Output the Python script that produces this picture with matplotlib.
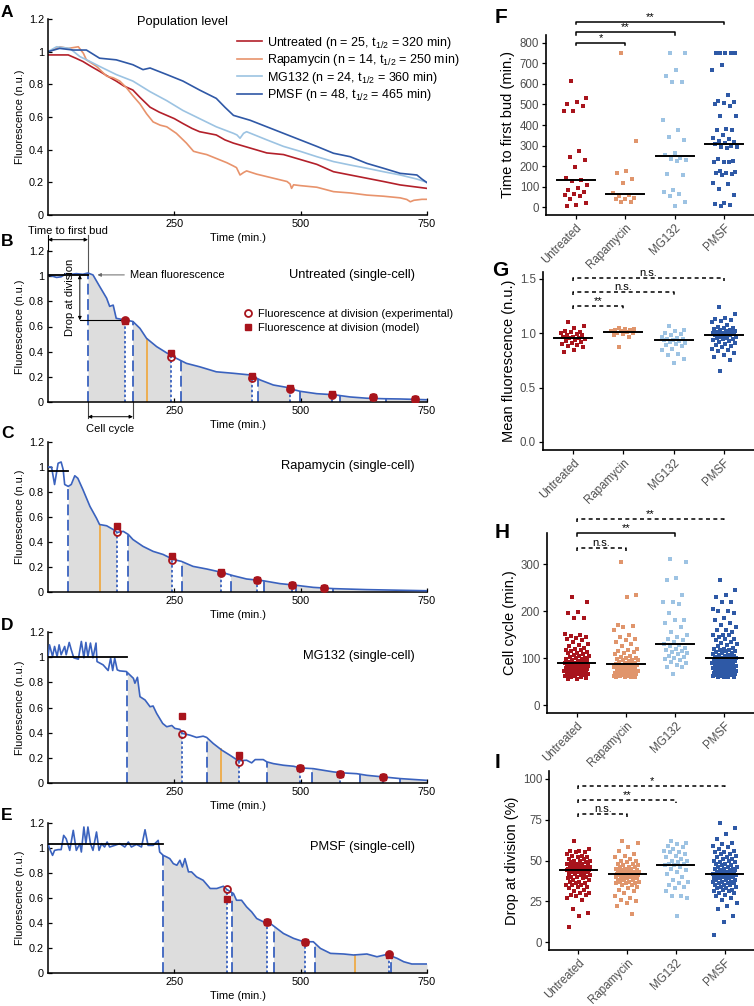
import numpy as np
import matplotlib
matplotlib.use('Agg')
import matplotlib.pyplot as plt
from matplotlib.lines import Line2D
from matplotlib.ticker import FuncFormatter

plt.rcParams['font.family'] = ['Liberation Sans', 'DejaVu Sans']
plt.rcParams['mathtext.fontset'] = 'custom'
plt.rcParams['mathtext.rm'] = 'Liberation Sans'
plt.rcParams['mathtext.it'] = 'Liberation Sans:italic'

# colours
c_unt = '#B3202A'
c_rap = '#E8936C'
c_mg = '#9CC3E2'
c_pm = '#2F58A6'
c_curve = '#3A62BE'
c_red = '#A8141C'
c_fill = '#DDDDDD'
c_yel = '#F0A63A'

# ---------------- A: population level ----------------
t_unt_pop = [0, 20, 40, 55, 69, 85, 102, 118, 135, 150, 168, 182, 202, 220, 235, 250, 267, 285, 300, 333, 350, 367, 400, 433, 466, 499, 532, 565, 598, 631, 664, 697, 750]
f_unt_pop = [0.98, 0.98, 0.98, 0.96, 0.94, 0.91, 0.88, 0.85, 0.82, 0.79, 0.765, 0.72, 0.66, 0.63, 0.61, 0.59, 0.56, 0.53, 0.51, 0.49, 0.46, 0.44, 0.41, 0.38, 0.37, 0.34, 0.31, 0.265, 0.245, 0.225, 0.205, 0.184, 0.163]

t_rap_pop = [0, 10, 23, 40, 60, 70, 76, 86, 96, 106, 116, 129, 142, 155, 168, 182, 195, 208, 222, 235, 254, 264, 274, 288, 300, 314, 334, 354, 367, 373, 380, 387, 393, 413, 433, 453, 473, 479, 482, 486, 499, 532, 565, 598, 631, 664, 697, 710, 717, 724, 740, 750]
f_rap_pop = [1.0, 1.01, 1.03, 1.02, 1.03, 0.99, 0.95, 0.93, 0.91, 0.88, 0.85, 0.84, 0.82, 0.78, 0.73, 0.68, 0.62, 0.57, 0.55, 0.54, 0.50, 0.47, 0.44, 0.39, 0.38, 0.37, 0.345, 0.32, 0.30, 0.29, 0.245, 0.26, 0.27, 0.25, 0.235, 0.22, 0.205, 0.19, 0.163, 0.185, 0.18, 0.17, 0.143, 0.135, 0.122, 0.115, 0.105, 0.095, 0.081, 0.09, 0.096, 0.096]

t_mg_pop = [0, 17, 43, 63, 83, 102, 135, 168, 202, 235, 267, 300, 333, 367, 374, 380, 387, 393, 433, 466, 499, 532, 565, 598, 631, 664, 697, 730, 750]
f_mg_pop = [1.0, 1.03, 1.02, 0.97, 0.94, 0.91, 0.86, 0.82, 0.755, 0.70, 0.64, 0.59, 0.54, 0.50, 0.49, 0.47, 0.50, 0.51, 0.46, 0.42, 0.39, 0.357, 0.327, 0.306, 0.286, 0.265, 0.245, 0.22, 0.20]

t_pm_pop = [0, 23, 50, 76, 102, 135, 168, 188, 202, 235, 267, 300, 333, 350, 367, 400, 433, 466, 499, 532, 565, 598, 631, 664, 697, 730, 740, 750]
f_pm_pop = [1.0, 1.02, 1.01, 1.01, 0.96, 0.95, 0.92, 0.89, 0.90, 0.86, 0.82, 0.765, 0.714, 0.66, 0.61, 0.58, 0.54, 0.50, 0.46, 0.42, 0.378, 0.357, 0.316, 0.286, 0.255, 0.245, 0.22, 0.198]

pop_labels = ['Untreated (n = 25, t$_{1/2}$ = 320 min)',
              'Rapamycin (n = 14, t$_{1/2}$ = 250 min)',
              'MG132 (n = 24, t$_{1/2}$ = 360 min)',
              'PMSF (n = 48, t$_{1/2}$ = 465 min)']

# ---------------- B-E: single cells ----------------
t_B = [0, 17, 26, 36, 46, 56, 69, 79, 89, 102, 116, 122, 129, 135, 155, 168, 182, 195, 215, 235, 254, 274, 300, 333, 367, 400, 420, 446, 473, 479, 499, 532, 565, 598, 631, 664, 697, 750]
f_B = [1.01, 0.99, 0.995, 1.02, 1.015, 1.02, 1.015, 1.025, 1.01, 0.92, 0.825, 0.76, 0.77, 0.665, 0.65, 0.64, 0.585, 0.506, 0.44, 0.39, 0.347, 0.307, 0.28, 0.24, 0.228, 0.215, 0.175, 0.135, 0.116, 0.105, 0.085, 0.066, 0.058, 0.04, 0.03, 0.026, 0.024, 0.018]
mean_B = 1.01
bud_B = [79, 168, 263, 415, 499, 578, 669]
div_B = [153, 243, 404, 478, 562, 643, 727]
exp_B = [0.65, 0.36, 0.19, 0.105, 0.058, 0.036, 0.022]
mod_B = [0.64, 0.39, 0.21, 0.115, 0.06, 0.04, 0.024]
yel_B = 196

t_C = [0, 7, 13, 20, 26, 30, 33, 40, 46, 53, 59, 69, 83, 96, 102, 116, 129, 137, 149, 159, 168, 188, 208, 228, 248, 264, 287, 314, 344, 367, 393, 426, 459, 486, 525, 565, 631, 750]
f_C = [1.0, 1.0, 0.86, 1.03, 1.04, 0.98, 0.86, 0.845, 0.86, 0.93, 0.91, 0.82, 0.685, 0.59, 0.54, 0.53, 0.50, 0.477, 0.485, 0.46, 0.42, 0.365, 0.325, 0.30, 0.26, 0.245, 0.205, 0.184, 0.157, 0.13, 0.104, 0.09, 0.067, 0.056, 0.037, 0.027, 0.019, 0.01]
mean_C = 0.97
bud_C = [40, 159, 266, 363, 428, 490, 563]
div_C = [137, 246, 342, 413, 482, 546]
exp_C = [0.477, 0.26, 0.155, 0.1, 0.06, 0.03]
mod_C = [0.53, 0.29, 0.16, 0.1, 0.06, 0.035]
yel_C = 102

t_D = [0, 3, 9, 13, 18, 22, 26, 33, 36, 42, 46, 51, 60, 66, 71, 75, 79, 84, 89, 95, 97, 109, 119, 124, 128, 132, 137, 142, 155, 162, 169, 172, 177, 182, 192, 202, 208, 215, 221, 227, 235, 245, 251, 261, 266, 281, 294, 307, 314, 327, 344, 360, 377, 393, 403, 410, 426, 433, 446, 466, 486, 499, 525, 545, 565, 585, 611, 631, 664, 697, 750]
f_D = [1.005, 1.098, 1.005, 1.085, 1.005, 1.098, 1.019, 1.085, 1.019, 1.117, 1.059, 0.995, 0.984, 1.125, 0.995, 1.117, 1.005, 1.112, 0.995, 1.112, 0.965, 0.939, 0.894, 0.992, 0.894, 0.992, 0.899, 0.891, 0.886, 0.859, 0.832, 0.793, 0.84, 0.686, 0.66, 0.606, 0.612, 0.553, 0.513, 0.473, 0.447, 0.457, 0.434, 0.426, 0.394, 0.38, 0.362, 0.372, 0.362, 0.314, 0.261, 0.221, 0.176, 0.181, 0.16, 0.186, 0.186, 0.168, 0.154, 0.141, 0.133, 0.12, 0.114, 0.101, 0.088, 0.08, 0.074, 0.061, 0.048, 0.035, 0.021]
mean_D = 1.0
mean_end_D = 157
bud_D = [157, 314, 433, 523, 618, 697]
div_D = [266, 377, 499, 578, 663]
exp_D = [0.39, 0.17, 0.12, 0.075, 0.045]
mod_D = [0.535, 0.225, 0.12, 0.075, 0.045]
yel_D = 342

t_E = [0, 3, 9, 13, 20, 26, 31, 36, 43, 50, 56, 63, 66, 71, 75, 79, 84, 89, 96, 101, 106, 112, 117, 122, 132, 142, 152, 159, 165, 175, 185, 192, 198, 208, 218, 221, 228, 235, 241, 248, 255, 261, 266, 271, 278, 284, 294, 307, 321, 334, 347, 354, 367, 373, 383, 393, 403, 413, 426, 440, 453, 466, 486, 506, 525, 539, 559, 585, 605, 631, 651, 671, 691, 704, 720, 750]
f_E = [1.035, 0.995, 0.941, 0.981, 0.987, 0.987, 1.101, 1.074, 0.981, 1.141, 0.981, 1.035, 0.968, 1.168, 1.035, 1.168, 1.035, 0.981, 1.128, 0.981, 1.035, 1.008, 1.048, 1.008, 1.021, 1.035, 1.008, 1.048, 1.008, 1.029, 1.008, 1.146, 1.021, 1.021, 1.061, 0.968, 0.941, 0.928, 0.915, 0.875, 0.862, 0.902, 0.848, 0.915, 0.809, 0.809, 0.769, 0.742, 0.676, 0.676, 0.694, 0.668, 0.636, 0.582, 0.582, 0.529, 0.489, 0.436, 0.41, 0.396, 0.356, 0.316, 0.277, 0.25, 0.25, 0.197, 0.157, 0.152, 0.144, 0.152, 0.13, 0.149, 0.117, 0.09, 0.072, 0.072]
mean_E = 1.035
bud_E = [228, 365, 448, 529, 679]
div_E = [354, 433, 508, 674]
exp_E = [0.67, 0.405, 0.25, 0.15]
mod_E = [0.595, 0.405, 0.25, 0.145]
yel_E = 608

# ---------------- F-I: per-condition distributions ----------------
groups = ['Untreated', 'Rapamycin', 'MG132', 'PMSF']
group_colors = ['#A8141C', '#E0956C', '#9DC3E3', '#2E59A6']

bud_unt = [615, 530, 510, 500, 495, 470, 470, 275, 245, 230, 195, 140, 130, 125, 105, 95, 85, 75, 65, 60, 55, 40, 20, 10, 5]
bud_rap = [750, 320, 175, 165, 135, 115, 70, 60, 55, 45, 40, 40, 25, 25]
bud_mg = [750, 750, 670, 640, 610, 610, 425, 375, 340, 325, 265, 255, 240, 235, 230, 225, 160, 155, 85, 75, 65, 55, 25, 5]
bud_pm = [750, 750, 750, 750, 750, 695, 670, 545, 515, 510, 505, 500, 495, 445, 445, 380, 375, 375, 350, 335, 330, 320, 315, 310,
          305, 300, 295, 295, 290, 235, 225, 220, 220, 220, 175, 170, 165, 165, 160, 155, 115, 110, 90, 60, 20, 15, 10, 5]

mf_unt = [1.10, 1.07, 1.05, 1.02, 1.01, 1.01, 1.0, 0.99, 0.98, 0.98, 0.97, 0.97, 0.96, 0.96, 0.95, 0.94, 0.93, 0.92, 0.91, 0.90, 0.89, 0.88, 0.87, 0.85, 0.83]
mf_rap = [1.05, 1.04, 1.04, 1.03, 1.03, 1.02, 1.02, 1.01, 1.0, 1.0, 0.99, 0.98, 0.97, 0.87]
mf_mg = [1.07, 1.03, 1.02, 1.0, 0.99, 0.98, 0.97, 0.96, 0.95, 0.95, 0.94, 0.94, 0.93, 0.92, 0.91, 0.90, 0.89, 0.88, 0.86, 0.85, 0.81, 0.80, 0.76, 0.73]
mf_pm = [1.24, 1.18, 1.14, 1.13, 1.12, 1.11, 1.10, 1.08, 1.06, 1.05, 1.05, 1.04, 1.03, 1.03, 1.02, 1.02, 1.01, 1.01, 1.0, 1.0,
         1.0, 0.99, 0.99, 0.98, 0.98, 0.98, 0.97, 0.97, 0.96, 0.96, 0.95, 0.95, 0.94, 0.93, 0.92, 0.91, 0.90, 0.89, 0.88, 0.87,
         0.86, 0.85, 0.84, 0.82, 0.80, 0.78, 0.75, 0.65]

cc_unt = [230, 220, 197, 195, 186, 185, 152, 148, 146, 145, 143, 140, 138, 135, 130, 128, 125, 122, 120, 118, 116, 115, 112, 110,
          110, 108, 106, 105, 104, 102, 100, 100, 98, 97, 95, 95, 94, 92, 91, 90, 90, 89, 88, 87, 86, 85, 85, 84, 83, 82, 81, 80,
          80, 79, 78, 77, 76, 75, 75, 74, 73, 72, 71, 70, 70, 69, 68, 67, 66, 65, 65, 64, 63, 62, 61, 60, 60, 58, 56, 55]
cc_rap = [305, 235, 230, 170, 168, 165, 160, 150, 145, 140, 138, 135, 130, 125, 120, 118, 115, 112, 110, 108, 105, 102, 100, 100,
          98, 96, 95, 95, 93, 92, 90, 90, 88, 87, 86, 85, 85, 84, 83, 82, 81, 80, 79, 78, 77, 76, 75, 74, 73, 72, 71, 70, 70, 69,
          68, 67, 66, 65, 65, 64, 63, 62, 62, 61, 60, 60, 60, 60]
cc_mg = [310, 305, 270, 265, 235, 220, 220, 215, 195, 180, 180, 175, 165, 155, 150, 145, 140, 138, 135, 130, 128, 125, 122, 120,
         118, 115, 112, 110, 108, 105, 102, 100, 98, 95, 92, 90, 85, 80, 80, 65]
cc_pm = [265, 245, 235, 230, 220, 220, 205, 200, 200, 195, 185, 180, 175, 170, 165, 160, 160, 155, 150, 150, 148, 145, 140, 140,
         138, 135, 132, 130, 128, 125, 122, 120, 120, 118, 116, 115, 114, 112, 110, 110, 108, 107, 106, 105, 104, 103, 102, 101,
         100, 100, 99, 98, 97, 96, 95, 95, 94, 93, 92, 91, 90, 90, 89, 88, 87, 86, 85, 85, 84, 83, 82, 81, 80, 80, 79, 78, 77, 76,
         75, 75, 74, 73, 72, 71, 70, 70, 69, 68, 67, 66, 65, 65, 64, 63, 62, 61, 60, 60, 60, 60]

dr_unt = [62, 57, 56, 56, 55, 55, 54, 53, 53, 52, 52, 51, 51, 50, 50, 50, 49, 49, 48, 48, 48, 47, 47, 47, 47, 46, 46, 46, 46, 45,
          45, 45, 45, 45, 45, 44, 44, 44, 44, 44, 44, 43, 43, 43, 43, 42, 42, 42, 41, 41, 40, 40, 40, 39, 39, 38, 38, 37, 37, 36,
          36, 35, 35, 35, 34, 34, 33, 32, 31, 30, 30, 29, 29, 28, 27, 26, 20, 18, 16, 9]
dr_rap = [62, 61, 58, 56, 54, 53, 52, 51, 50, 50, 49, 48, 48, 47, 47, 46, 46, 46, 45, 45, 45, 44, 44, 44, 44, 43, 43, 43, 43, 42,
          42, 42, 42, 42, 41, 41, 41, 41, 40, 40, 40, 40, 39, 39, 39, 38, 38, 38, 37, 37, 37, 36, 36, 36, 35, 35, 34, 33, 32, 31,
          30, 28, 27, 26, 25, 24, 22, 17]
dr_mg = [62, 61, 60, 59, 58, 57, 56, 55, 55, 54, 53, 52, 51, 50, 50, 49, 48, 48, 47, 47, 46, 45, 44, 43, 42, 40, 38, 37, 36, 35,
         34, 33, 31, 28, 28, 27, 16]
dr_pm = [73, 70, 66, 63, 61, 60, 59, 58, 57, 56, 55, 55, 54, 54, 53, 52, 52, 51, 51, 50, 50, 49, 49, 48, 48, 47, 47, 46, 46, 46,
         45, 45, 45, 44, 44, 44, 43, 43, 43, 43, 42, 42, 42, 42, 42, 41, 41, 41, 41, 40, 40, 40, 40, 39, 39, 39, 38, 38, 38, 37,
         37, 37, 36, 36, 36, 35, 35, 35, 34, 34, 33, 33, 32, 32, 31, 31, 30, 30, 29, 28, 27, 26, 24, 22, 20, 16, 12, 4]

# significance brackets: (group a, group b, height, label, dashed)
sig_F = [(1, 2, 801, '*', False), (1, 3, 852, '**', False), (1, 4, 904, '**', False)]
sig_G = [(1, 2, 1.254, '**', True), (1, 3, 1.383, 'n.s.', True), (1, 4, 1.512, 'n.s.', True)]
sig_H = [(1, 2, 335, 'n.s.', True), (1, 3, 365, '**', False), (1, 4, 396, '**', True)]
sig_I = [(1, 2, 78.3, 'n.s.', True), (1, 3, 86.9, '**', True), (1, 4, 95.7, '*', True)]

# ---------------- figure ----------------
W, H = 754, 1006
fig = plt.figure(figsize=(W / 100, H / 100), dpi=100)


def px_axes(l, r, top, bottom):
    return fig.add_axes([l / W, 1 - bottom / H, (r - l) / W, (bottom - top) / H])


fmt_g = FuncFormatter(lambda v, p: f'{v:g}')


def style_left(ax):
    ax.set_xlim(0, 750)
    ax.set_ylim(0, 1.2)
    for s in ['top', 'right']:
        ax.spines[s].set_visible(False)
    for s in ['left', 'bottom']:
        ax.spines[s].set_linewidth(1.1)
    ax.set_xticks([250, 500, 750])
    ax.set_yticks([0, 0.2, 0.4, 0.6, 0.8, 1.0, 1.2])
    ax.yaxis.set_major_formatter(fmt_g)
    ax.tick_params(direction='in', length=3, width=0.9, labelsize=7.8, pad=3)
    ax.set_xlabel('Time (min.)', fontsize=8, labelpad=3)
    ax.set_ylabel('Fluorescence (n.u.)', fontsize=7.8, labelpad=3)


axA = px_axes(48, 427, 19, 215)
for t, f, c, lab in zip([t_unt_pop, t_rap_pop, t_mg_pop, t_pm_pop],
                        [f_unt_pop, f_rap_pop, f_mg_pop, f_pm_pop],
                        [c_unt, c_rap, c_mg, c_pm], pop_labels):
    axA.plot(t, f, color=c, lw=1.2, label=lab)
style_left(axA)
axA.text(0.356, 0.985, 'Population level', transform=axA.transAxes, ha='center', va='center', fontsize=9.3)
axA.legend(loc='upper left', bbox_to_anchor=(0.499, 0.92), frameon=False, fontsize=9,
           handlelength=2.0, handletextpad=0.4, labelspacing=0.12, borderpad=0, borderaxespad=0)


def single_cell(ax, t, f, mean_val, mean_end, bud, div, exp, mod, yel, title):
    t = np.asarray(t, float)
    f = np.asarray(f, float)
    first = bud[0]
    tf = np.linspace(first, 750, 800)
    ax.fill_between(tf, 0, np.interp(tf, t, f), color=c_fill, lw=0, zorder=1)
    for d in div:
        nxt = [b for b in bud if b > d]
        if nxt:
            ax.fill_between([d, nxt[0]], 0, 1.3, color='white', lw=0, zorder=1.5)
    ax.plot(t, f, color=c_curve, lw=1.2, zorder=3)
    ax.plot([0, mean_end], [mean_val, mean_val], color='black', lw=1.3, zorder=4)
    for b in bud:
        ax.plot([b, b], [0, np.interp(b, t, f)], color=c_curve, lw=1.3, ls=(0, (6, 2.5)), zorder=2)
    for d in div:
        ax.plot([d, d], [0, np.interp(d, t, f)], color=c_curve, lw=1.3, ls=(0, (1.4, 1.3)), zorder=2)
    ax.plot([yel, yel], [0, np.interp(yel, t, f)], color=c_yel, lw=1.2, zorder=2)
    ax.plot(div, mod, ls='none', marker='s', ms=4.2, color=c_red, zorder=5)
    ax.plot(div, exp, ls='none', marker='o', ms=5, mfc='none', mec=c_red, mew=1.3, zorder=6)
    style_left(ax)
    ax.text(0.968, 0.84, title, transform=ax.transAxes, ha='right', va='center', fontsize=9.3)


axB = px_axes(48, 427, 251, 402)
single_cell(axB, t_B, f_B, mean_B, bud_B[0], bud_B, div_B, exp_B, mod_B, yel_B, 'Untreated (single-cell)')
axC = px_axes(48, 427, 442, 592)
single_cell(axC, t_C, f_C, mean_C, bud_C[0], bud_C, div_C, exp_C, mod_C, yel_C, 'Rapamycin (single-cell)')
axD = px_axes(48, 427, 632, 783)
single_cell(axD, t_D, f_D, mean_D, mean_end_D, bud_D, div_D, exp_D, mod_D, yel_D, 'MG132 (single-cell)')
axE = px_axes(48, 427, 823, 973)
single_cell(axE, t_E, f_E, mean_E, bud_E[0], bud_E, div_E, exp_E, mod_E, yel_E, 'PMSF (single-cell)')

# annotations in B
aprops = dict(arrowstyle='<|-|>', lw=0.7, color='black', shrinkA=0, shrinkB=0, mutation_scale=5)
axB.annotate('', xy=(0, 1.29), xytext=(bud_B[0], 1.29), arrowprops=aprops, annotation_clip=False)
axB.plot([0, 0], [1.2, 1.33], color='black', lw=0.8, clip_on=False)
axB.plot([bud_B[0], bud_B[0]], [mean_B, 1.33], color='#555555', lw=0.8, clip_on=False)
axB.text(40, 1.36, 'Time to first bud', ha='center', va='center', fontsize=8)
axB.annotate('Mean fluorescence', xy=(98, mean_B), xytext=(162, mean_B), va='center', fontsize=8,
             arrowprops=dict(arrowstyle='-|>', lw=0.7, color='#666666', shrinkA=2, shrinkB=0, mutation_scale=5))
axB.annotate('', xy=(63, exp_B[0]), xytext=(63, mean_B), arrowprops=aprops)
axB.plot([63, div_B[0]], [exp_B[0], exp_B[0]], color='black', lw=0.8)
axB.text(43, 0.83, 'Drop at division', rotation=90, ha='center', va='center', fontsize=8)
axB.plot([bud_B[0], bud_B[0]], [0, -0.13], color='#444444', lw=0.8, clip_on=False)
axB.plot([bud_B[1], bud_B[1]], [0, -0.13], color='#444444', lw=0.8, clip_on=False)
axB.annotate('', xy=(bud_B[0], -0.117), xytext=(bud_B[1], -0.117), arrowprops=aprops, annotation_clip=False)
axB.text((bud_B[0] + bud_B[1]) / 2, -0.215, 'Cell cycle', ha='center', va='center', fontsize=8)
handles = [Line2D([], [], ls='none', marker='o', ms=5, mfc='none', mec=c_red, mew=1.3),
           Line2D([], [], ls='none', marker='s', ms=4.2, color=c_red)]
axB.legend(handles, ['Fluorescence at division (experimental)', 'Fluorescence at division (model)'],
           loc='upper left', bbox_to_anchor=(0.513, 0.615), frameon=False, fontsize=8,
           handlelength=1.0, handletextpad=0.4, labelspacing=0.35, borderpad=0, borderaxespad=0)


# ---------------- right panels ----------------
def jitter(n, w=0.25):
    k = np.arange(n)
    return ((k * 0.6180339887 + 0.31) % 1 - 0.5) * 2 * w


def dot_panel(ax, data, ylim, yticks, yticklabels, ylabel, sigs, tick):
    for i, (vals, col) in enumerate(zip(data, group_colors), start=1):
        vals = np.asarray(vals, float)
        ax.scatter(i + jitter(len(vals)), vals, marker='s', s=10, color=col, lw=0, zorder=2)
        ax.plot([i - 0.38, i + 0.38], [np.median(vals)] * 2, color='black', lw=1.4, zorder=3)
    ax.set_xlim(0.4, 4.6)
    ax.set_ylim(*ylim)
    for s in ['top', 'right']:
        ax.spines[s].set_visible(False)
    for s in ['left', 'bottom']:
        ax.spines[s].set_linewidth(1.2)
    ax.set_xticks([1, 2, 3, 4])
    ax.set_xticklabels(groups, rotation=45, ha='right', rotation_mode='anchor')
    ax.set_yticks(yticks)
    ax.set_yticklabels(yticklabels)
    ax.tick_params(direction='out', length=3, width=0.9, labelsize=8.3, labelcolor='#4D4D4D', pad=2)
    ax.set_ylabel(ylabel, fontsize=10.5, labelpad=3)
    for a, b, y, lab, dashed in sigs:
        ls = (0, (2.6, 2.2)) if dashed else '-'
        ax.plot([a, a, b, b], [y - tick, y, y, y - tick], color='black', lw=1.1, ls=ls, clip_on=False)
        ax.text((a + b) / 2, y, lab, ha='center', va='bottom', fontsize=8, clip_on=False)


axF = px_axes(546, 754, 35, 215)
dot_panel(axF, [bud_unt, bud_rap, bud_mg, bud_pm], (-39, 839), range(0, 801, 100),
          [str(v) for v in range(0, 801, 100)], 'Time to first bud (min.)', sig_F, 13)
axG = px_axes(543, 754, 272, 450)
dot_panel(axG, [mf_unt, mf_rap, mf_mg, mf_pm], (-0.074, 1.564), [0, 0.5, 1.0, 1.5],
          ['0.0', '0.5', '1.0', '1.5'], 'Mean fluorescence (n.u.)', sig_G, 0.03)
axH = px_axes(547, 754, 533, 713)
dot_panel(axH, [cc_unt, cc_rap, cc_mg, cc_pm], (-17, 366), [0, 100, 200, 300],
          ['0', '100', '200', '300'], 'Cell cycle (min.)', sig_H, 6.4)
axI = px_axes(549, 754, 771, 950)
dot_panel(axI, [dr_unt, dr_rap, dr_mg, dr_pm], (-4.9, 104.9), [0, 25, 50, 75, 100],
          ['0', '25', '50', '75', '100'], 'Drop at division (%)', sig_I, 1.8)

# panel letters
for lab, x, y in [('A', 1, 12.5), ('B', 1, 242), ('C', 1, 433), ('D', 1, 625), ('E', 1, 815)]:
    fig.text(x / W, 1 - y / H, lab, fontsize=12.5, fontweight='bold', ha='left', va='center')
for lab, x, y in [('F', 495, 17.5), ('G', 492, 270), ('H', 495, 532), ('I', 495, 762)]:
    fig.text(x / W, 1 - y / H, lab, fontsize=15, fontweight='bold', ha='left', va='center')

fig.savefig('out.png', dpi=100)
